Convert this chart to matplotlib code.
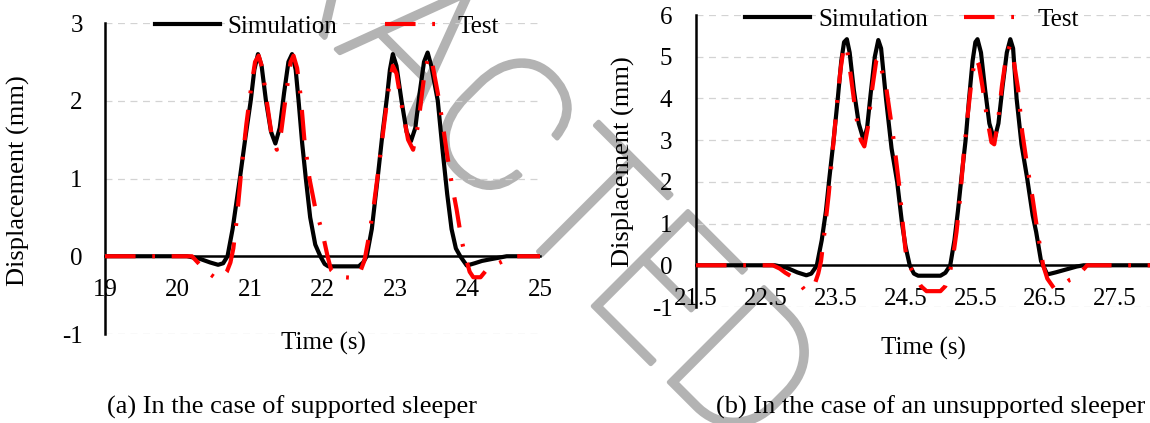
import matplotlib
matplotlib.use('Agg')
import matplotlib.pyplot as plt
import matplotlib.patheffects as pe

plt.rcParams['font.family'] = 'Liberation Serif'
plt.rcParams['lines.scale_dashes'] = False
plt.rcParams['axes.unicode_minus'] = False

### data
# (a) supported sleeper
sim_a_time = [19.0, 20.13, 20.3, 20.45, 20.56, 20.63, 20.69, 20.76, 20.86, 20.94, 21.01, 21.06,
              21.11, 21.16, 21.22, 21.29, 21.35, 21.41, 21.47, 21.53, 21.58, 21.63, 21.67, 21.72,
              21.77, 21.83, 21.9, 21.97, 22.03, 22.08, 22.5, 22.56, 22.61, 22.68, 22.76, 22.83,
              22.89, 22.93, 22.97, 23.02, 23.09, 23.16, 23.22, 23.28, 23.34, 23.4, 23.45, 23.5,
              23.59, 23.66, 23.72, 23.78, 23.84, 23.9, 23.99, 24.1, 24.2, 24.31, 24.54, 25.0]
sim_a_disp = [0.0, 0.0, -0.03, -0.08, -0.11, -0.09, 0.0, 0.35, 1.0, 1.55, 2.0, 2.4,
              2.6, 2.45, 2.0, 1.6, 1.45, 1.65, 2.1, 2.5, 2.6, 2.4, 2.0, 1.45,
              1.0, 0.5, 0.15, 0.0, -0.1, -0.13, -0.13, -0.08, 0.0, 0.35, 1.0, 1.6,
              2.05, 2.4, 2.6, 2.45, 2.0, 1.6, 1.48, 1.65, 2.1, 2.5, 2.62, 2.45,
              2.0, 1.33, 0.8, 0.35, 0.1, 0.0, -0.12, -0.09, -0.06, -0.04, 0.0, 0.0]

test_a_time = [19.0, 20.2, 20.35, 20.45, 20.54, 20.62, 20.68, 20.73, 20.77, 20.82, 20.88, 20.95,
               21.02, 21.07, 21.12, 21.17, 21.23, 21.3, 21.37, 21.43, 21.5, 21.56, 21.6, 21.65,
               21.7, 21.75, 21.82, 21.9, 22.0, 22.07, 22.12, 22.2, 22.3, 22.45, 22.52, 22.58,
               22.63, 22.7, 22.77, 22.85, 22.92, 22.97, 23.02, 23.1, 23.18, 23.25, 23.32, 23.4,
               23.46, 23.52, 23.59, 23.65, 23.72, 23.78, 23.85, 23.92, 23.97, 24.03, 24.08, 24.18,
               24.25, 24.35, 24.45, 24.62, 25.0]
test_a_disp = [0.0, 0.0, -0.15, -0.23, -0.29, -0.27, -0.2, -0.08, 0.1, 0.5, 1.1, 1.7,
               2.2, 2.5, 2.58, 2.42, 2.0, 1.55, 1.37, 1.6, 2.1, 2.5, 2.58, 2.42,
               2.05, 1.5, 1.0, 0.62, 0.3, 0.0, -0.18, -0.25, -0.27, -0.28, -0.2, -0.05,
               0.2, 0.6, 1.1, 1.7, 2.2, 2.45, 2.35, 1.9, 1.5, 1.37, 1.7, 2.3,
               2.58, 2.45, 2.1, 1.75, 1.3, 0.95, 0.6, 0.2, 0.0, -0.2, -0.27, -0.27,
               -0.19, -0.12, -0.08, 0.0, 0.0]

# (b) unsupported sleeper
sim_b_time = [21.5, 22.63, 22.8, 22.95, 23.08, 23.15, 23.2, 23.23, 23.3, 23.36, 23.41, 23.47,
              23.53, 23.58, 23.62, 23.66, 23.7, 23.76, 23.83, 23.9, 23.95, 24.0, 24.06, 24.11,
              24.15, 24.22, 24.3, 24.38, 24.45, 24.5, 24.56, 24.62, 24.68, 25.0, 25.07, 25.14,
              25.2, 25.25, 25.3, 25.36, 25.41, 25.46, 25.5, 25.53, 25.58, 25.64, 25.7, 25.77,
              25.83, 25.89, 25.95, 26.0, 26.04, 26.09, 26.16, 26.24, 26.32, 26.37, 26.44, 26.53,
              26.65, 26.8, 26.95, 27.05, 28.0]
sim_b_disp = [0.0, 0.0, -0.06, -0.17, -0.24, -0.2, -0.08, 0.0, 0.6, 1.3, 2.1, 3.0,
              4.0, 4.9, 5.35, 5.42, 5.1, 4.2, 3.4, 3.0, 3.3, 4.1, 5.0, 5.4,
              5.2, 4.0, 2.8, 2.0, 1.0, 0.45, 0.0, -0.2, -0.25, -0.25, -0.18, 0.0,
              0.6, 1.3, 2.1, 3.0, 4.0, 4.9, 5.35, 5.42, 5.1, 4.2, 3.4, 3.0,
              3.4, 4.3, 5.1, 5.42, 5.2, 4.0, 2.9, 2.1, 1.2, 0.8, 0.1, -0.22,
              -0.17, -0.1, -0.03, 0.0, 0.0]

test_b_time = [21.5, 22.6, 22.7, 22.78, 22.9, 22.99, 23.06, 23.13, 23.2, 23.25, 23.29, 23.34,
               23.4, 23.46, 23.52, 23.57, 23.62, 23.66, 23.72, 23.79, 23.86, 23.91, 23.96, 24.02,
               24.08, 24.12, 24.17, 24.22, 24.28, 24.33, 24.41, 24.46, 24.5, 24.55, 24.64, 24.72,
               24.8, 25.0, 25.07, 25.13, 25.18, 25.23, 25.28, 25.33, 25.39, 25.45, 25.5, 25.55,
               25.6, 25.67, 25.73, 25.77, 25.82, 25.88, 25.94, 25.99, 26.04, 26.11, 26.17, 26.24,
               26.32, 26.39, 26.47, 26.53, 26.63, 26.73, 26.85, 26.94, 27.1, 28.0]
test_b_disp = [0.0, 0.0, -0.08, -0.18, -0.3, -0.45, -0.6, -0.6, -0.45, -0.2, 0.1, 0.8,
               1.7, 2.8, 3.9, 4.7, 5.28, 5.2, 4.5, 3.6, 3.0, 2.85, 3.3, 4.2,
               4.9, 4.98, 4.6, 4.3, 3.6, 3.0, 1.9, 1.0, 0.35, 0.0, -0.25, -0.5,
               -0.62, -0.62, -0.5, -0.2, 0.2, 0.8, 1.6, 2.6, 3.6, 4.5, 4.98, 4.8,
               4.3, 3.5, 2.95, 2.9, 3.4, 4.3, 5.0, 5.25, 5.0, 4.24, 3.2, 2.4,
               1.6, 0.8, 0.0, -0.32, -0.56, -0.5, -0.35, -0.3, 0.0, 0.0]

xticks_a = [19, 20, 21, 22, 23, 24, 25]
yticks_a = [-1, 0, 1, 2, 3]
xticks_b = [21.5, 22.5, 23.5, 24.5, 25.5, 26.5, 27.5]
yticks_b = [-1, 0, 1, 2, 3, 4, 5, 6]

W, H = 1150, 423
fig = plt.figure(figsize=(W / 100, H / 100), dpi=100)

test_style = (0, (22, 12, 2, 12))


def setup(ax, xlim, ylim, xticks, yticks, xpad, ypad):
    ax.set_facecolor('none')
    ax.set_xlim(*xlim)
    ax.set_ylim(*ylim)
    ax.set_xticks(xticks)
    ax.set_xticklabels([('%g' % v) for v in xticks])
    ax.set_yticks(yticks)
    ax.spines['top'].set_visible(False)
    ax.spines['right'].set_visible(False)
    ax.spines['bottom'].set_position(('data', 0))
    ax.spines['left'].set_linewidth(1.8)
    ax.spines['bottom'].set_linewidth(1.8)
    ax.spines['bottom'].set_zorder(1.5)
    ax.tick_params(axis='x', length=0, labelsize=18, pad=xpad)
    ax.tick_params(axis='y', length=0, labelsize=18, pad=ypad)
    ax.grid(axis='y', ls=(0, (5, 4)), color='#d3d3d3', lw=0.9)
    ax.set_axisbelow(True)


# (a)
axA = fig.add_axes([105 / W, 1 - 334 / H, 435 / W, (334 - 23) / H])
axA.plot(sim_a_time, sim_a_disp, color='black', lw=3, label='Simulation', zorder=3)
axA.plot(test_a_time, test_a_disp, color='red', lw=3, ls=test_style, label='Test', zorder=4)
setup(axA, (19, 25), (-1, 3), xticks_a, yticks_a, 16.5, 16)
axA.legend(ncol=2, frameon=False, fontsize=18, loc='center left',
           bbox_to_anchor=(155 / W, 1 - 27 / H), bbox_transform=fig.transFigure,
           borderpad=0, borderaxespad=0, handlelength=2.6, handletextpad=0.3,
           columnspacing=1.9)

# (b)
axB = fig.add_axes([696 / W, 1 - 307 / H, (W - 696) / W, (307 - 15) / H])
axB.plot(sim_b_time, sim_b_disp, color='black', lw=3, label='Simulation', zorder=3)
axB.plot(test_b_time, test_b_disp, color='red', lw=3, ls=test_style, label='Test', zorder=4)
setup(axB, (21.5, 28.0), (-1, 6), xticks_b, yticks_b, 16.5, 17)
axB.legend(ncol=2, frameon=False, fontsize=18, loc='center left',
           bbox_to_anchor=(745 / W, 1 - 20 / H), bbox_transform=fig.transFigure,
           borderpad=0, borderaxespad=0, handlelength=2.6, handletextpad=0.35,
           columnspacing=1.4)

# axis titles and captions
fig.text(18 / W, 1 - 181 / H, 'Displacement (mm)', rotation=90, ha='center', va='center', fontsize=19)
fig.text(323 / W, 1 - 343 / H, 'Time (s)', ha='center', va='center', fontsize=18)
fig.text(623 / W, 1 - 162 / H, 'Displacement (mm)', rotation=90, ha='center', va='center', fontsize=19)
fig.text(923 / W, 1 - 348 / H, 'Time (s)', ha='center', va='center', fontsize=18)
fig.text(292 / W, 1 - 407 / H, '(a) In the case of supported sleeper', ha='center', va='center', fontsize=19)
fig.text(931 / W, 1 - 407 / H, '(b) In the case of an unsupported sleeper', ha='center', va='center', fontsize=19)

# watermark (thin font, thickened with a stroke)
fig.text(410 / W, 1 - 50 / H, 'RETRACTED', rotation=-45, rotation_mode='anchor',
         ha='center', va='center', fontsize=136, family='Roboto', fontweight='light',
         color='#b3b3b3', zorder=-5,
         path_effects=[pe.withStroke(linewidth=3.2, foreground='#b3b3b3')])

fig.savefig('out.png', dpi=100)
